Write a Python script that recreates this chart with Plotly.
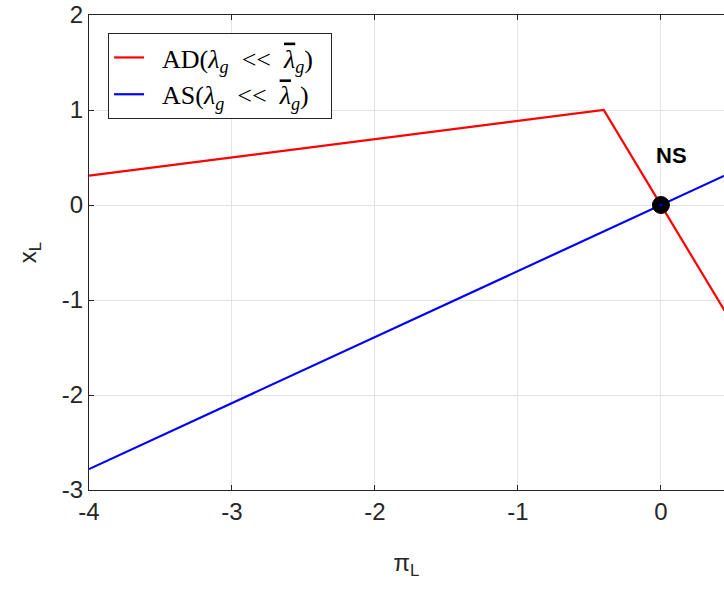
import plotly.graph_objects as go

ad_x = [-4.0, -0.4, 0.5]
ad_y = [0.31, 1.0, -1.25]
as_x = [-4.0, 0.5]
as_y = [-2.78, 0.3475]
ns_x = [0.0]
ns_y = [0.0]
ns_label = "NS"
x_ticks = [-4, -3, -2, -1, 0]
x_ticktext = ["-4", "-3", "-2", "-1", "0"]
y_ticks = [-3, -2, -1, 0, 1, 2]
y_ticktext = ["-3", "-2", "-1", "0", "1", "2"]

S = "\u00a0"
lam_bar = "<span style='text-decoration:overline'><i>λ</i></span>"


def leg(prefix):
    return (S * 2 + prefix + "(<i>λ</i><sub><i>g</i></sub>" + S * 2 + "&lt;&lt;" + S * 2
            + lam_bar + "<sub><i>g</i></sub>)" + S * 2)


fig = go.Figure()
fig.add_trace(go.Scatter(x=ad_x, y=ad_y, mode="lines", line=dict(color="#ff0000", width=2.2),
                         name=leg("AD")))
fig.add_trace(go.Scatter(x=as_x, y=as_y, mode="lines", line=dict(color="#0000ff", width=2.2),
                         name=leg("AS")))
fig.add_trace(go.Scatter(x=ns_x, y=ns_y, mode="markers", showlegend=False,
                         marker=dict(color="black", size=17, line=dict(color="black", width=1))))
fig.add_trace(go.Scatter(x=ns_x, y=ns_y, mode="markers", showlegend=False,
                         marker=dict(color="#0000ff", size=3)))
fig.add_annotation(x=0.077, y=0.52, text="<b>" + ns_label + "</b>", showarrow=False,
                   font=dict(family="Liberation Sans, Arial", size=22, color="black"))

axis_common = dict(showline=True, linecolor="#262626", linewidth=1, ticks="inside", ticklen=5,
                   tickcolor="#262626", showgrid=True, gridcolor="#e3e3e3", gridwidth=1,
                   zeroline=False, tickfont=dict(family="Liberation Sans, Arial", size=24, color="#262626"))
fig.update_xaxes(range=[-4, 0.441], tickvals=x_ticks, ticktext=x_ticktext, mirror="ticks",
                 title=dict(text="π<sub>L</sub>", font=dict(family="Liberation Sans, Arial", size=24, color="#262626"), standoff=30),
                 **axis_common)
fig.update_yaxes(range=[-3, 2], tickvals=y_ticks, ticktext=y_ticktext, mirror=False,
                 title=dict(text="x<sub>L</sub>", font=dict(family="Liberation Sans, Arial", size=24, color="#262626"), standoff=18),
                 **axis_common)
fig.update_layout(width=724, height=589, margin=dict(l=89, r=0, t=15, b=99),
                  plot_bgcolor="white", paper_bgcolor="white",
                  legend=dict(x=0.03, y=0.962, xanchor="left", yanchor="top",
                              bgcolor="white", bordercolor="#262626", borderwidth=1,
                              font=dict(family="Liberation Serif, Times New Roman, serif", size=26, color="black"),
                              tracegroupgap=0, itemwidth=30))
fig.write_html("out.html", config={"displayModeBar": False},
               post_script="document.body.style.margin='0';document.body.style.overflow='hidden';")
